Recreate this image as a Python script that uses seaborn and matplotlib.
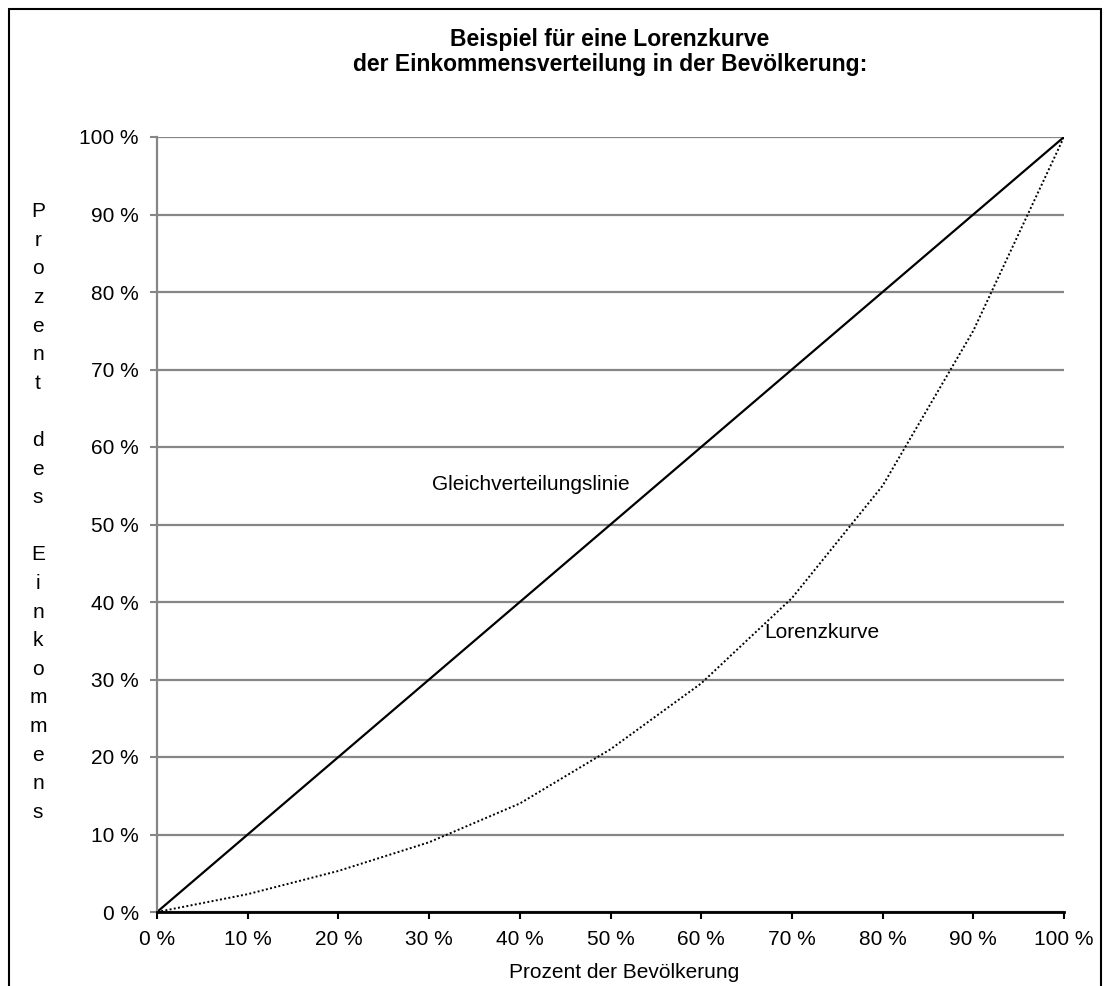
import matplotlib
matplotlib.use("Agg")
import matplotlib.pyplot as plt
import seaborn as sns
from matplotlib.lines import Line2D
from matplotlib.ticker import FuncFormatter

# Daten
bevoelkerung = [0, 10, 20, 30, 40, 50, 60, 70, 80, 90, 100]
gleichverteilung = [0, 10, 20, 30, 40, 50, 60, 70, 80, 90, 100]
lorenzkurve = [0, 2.3, 5.3, 9, 14, 21, 29.5, 40.5, 55, 75, 100]
ticks = list(range(0, 101, 10))

title_lines = ["Beispiel für eine Lorenzkurve",
               "der Einkommensverteilung in der Bevölkerung:"]
x_label = "Prozent der Bevölkerung"
y_label = "Prozent des Einkommens"

sns.set_style("white")
plt.rcParams['font.family'] = ['Liberation Sans', 'DejaVu Sans']
plt.rcParams['text.color'] = 'black'
plt.rcParams['axes.labelcolor'] = 'black'
plt.rcParams['xtick.color'] = 'black'
plt.rcParams['ytick.color'] = 'black'

W, H = 1109, 986
fig = plt.figure(figsize=(W / 100, H / 100), dpi=100)
ax = fig.add_axes([157 / W, 1 - 912 / H, (1064 - 157) / W, (912 - 137) / H])

# Linien
sns.lineplot(x=bevoelkerung, y=gleichverteilung, color='black', linewidth=1.6, ax=ax)
sns.lineplot(x=bevoelkerung, y=lorenzkurve, color='black', linewidth=1.4,
             linestyle=(0, (1, 1.2)), ax=ax)

ax.set_xlim(0, 100)
ax.set_ylim(0, 100)
ax.set_xticks(ticks)
ax.set_yticks(ticks)
pct = FuncFormatter(lambda v, p: f"{int(v)} %")
ax.xaxis.set_major_formatter(pct)
ax.yaxis.set_major_formatter(pct)

ax.grid(axis='y', color='#868686', linewidth=1.6)
ax.grid(axis='x', visible=False)
ax.set_axisbelow(True)

ax.spines['top'].set_visible(False)
ax.spines['right'].set_visible(False)
ax.spines['left'].set_color('#868686')
ax.spines['left'].set_linewidth(1.6)
ax.spines['bottom'].set_color('black')
ax.spines['bottom'].set_linewidth(2)
ax.spines['bottom'].set_zorder(5)

ax.tick_params(axis='x', direction='out', length=5, width=1.5, color='black',
               labelcolor='black', labelsize=15, pad=8, bottom=True)
ax.tick_params(axis='y', direction='out', length=5, width=1.5, color='#868686',
               labelcolor='black', labelsize=15, pad=8, left=True)

# Beschriftungen in der Grafik
ax.text(30.3, 55.1, "Gleichverteilungslinie", fontsize=15, va='center', ha='left')
ax.text(67.0, 36.0, "Lorenzkurve", fontsize=15, va='center', ha='left')

# Titel
fig.text(610 / W, 1 - 46 / H, title_lines[0], ha='center', va='baseline',
         fontsize=16.5, fontweight='bold')
fig.text(610 / W, 1 - 71 / H, title_lines[1], ha='center', va='baseline',
         fontsize=16.5, fontweight='bold')

# Achsentitel
fig.text(624 / W, 1 - 978 / H, x_label, ha='center', va='baseline', fontsize=15)
y_stacked = "\n".join(" " if c == " " else c for c in y_label)
fig.text(38 / W, 1 - 512 / H, y_stacked, ha='center', va='center',
         fontsize=15, linespacing=1.64)

# Rahmen
for xs, ys in [([9 / W, 9 / W], [0, 1 - 9 / H]),
               ([9 / W, 1101 / W], [1 - 9 / H, 1 - 9 / H]),
               ([1101 / W, 1101 / W], [0, 1 - 9 / H])]:
    fig.add_artist(Line2D(xs, ys, color='black', linewidth=1.5))

fig.savefig("out.png", dpi=100)
